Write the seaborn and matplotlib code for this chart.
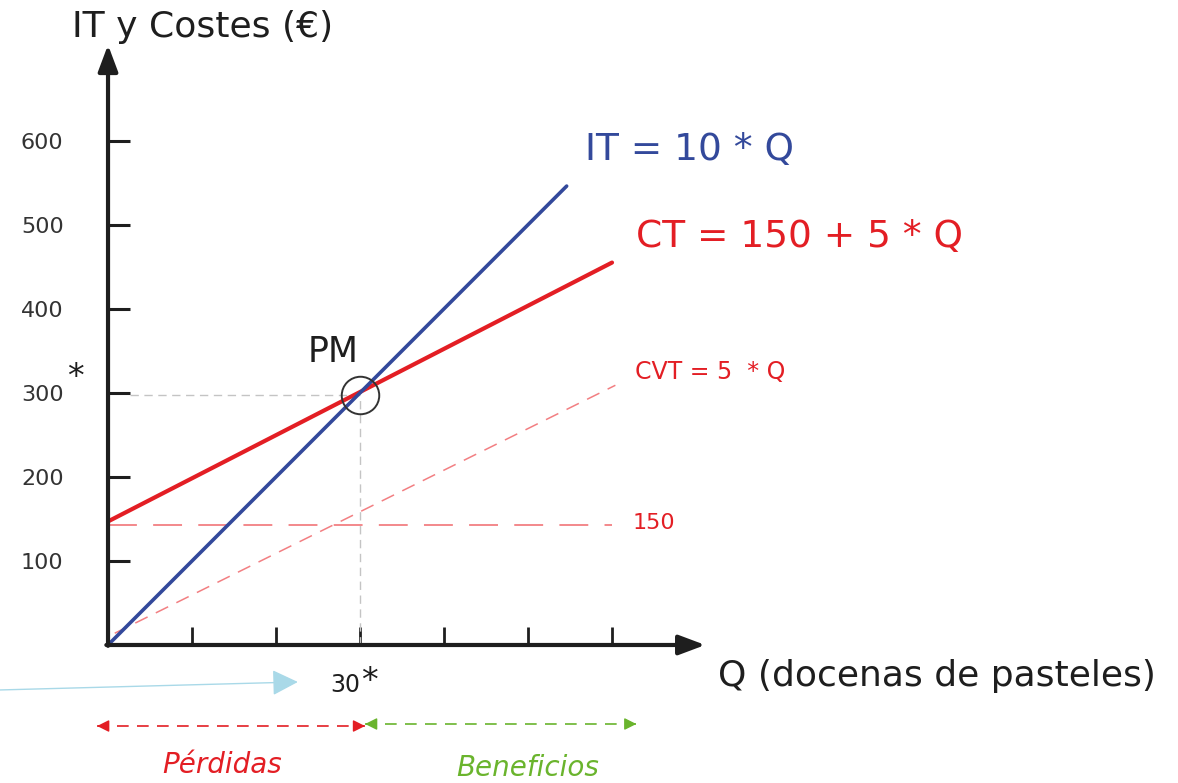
import pandas as pd
import matplotlib.pyplot as plt
import seaborn as sns

# Values
it_q = [0, 54.6]          # IT = 10 * Q
it_val = [0, 546]
ct_q = [0, 60]            # CT = 150 + 5 * Q
ct_val = [147, 455]
cvt_q = [0.8, 60.4]       # CVT = 5 * Q
cvt_val = [14, 309]
cf_q = [0, 60]            # fixed cost 150
cf_val = [143, 143]
pm_q = 30                 # break-even point
pm_val = 298
x_ticks = [10, 20, 30, 40, 50, 60]
y_ticks = [100, 200, 300, 400, 500, 600]
y_labels = ["100", "200", "300", "400", "500", "600"]

BLUE = "#33499b"
RED = "#e31e24"
LIGHT_RED = "#f27f82"
GREEN = "#6ab42d"
DARK = "#1e1e1e"

sns.set_style("white")
plt.rcParams["font.family"] = ["DejaVu Sans"]

fig = plt.figure(figsize=(11.78, 7.83), dpi=100)
ax = fig.add_axes([0, 0, 1, 1])
ax.set_xlim(-12.86, 127.38)
ax.set_ylim(-164.2, 767.4)

# axes through the origin
for side in ["top", "right"]:
    ax.spines[side].set_visible(False)
ax.spines["left"].set_position(("data", 0))
ax.spines["bottom"].set_position(("data", 0))
ax.spines["left"].set_visible(False)
ax.spines["bottom"].set_visible(False)
ax.annotate("", xy=(0, 714), xytext=(0, -1),
            arrowprops=dict(arrowstyle="-|>,head_length=0.8,head_width=0.3",
                            lw=3, color=DARK, mutation_scale=20,
                            shrinkA=0, shrinkB=0))
ax.annotate("", xy=(71.1, 0), xytext=(-0.2, 0),
            arrowprops=dict(arrowstyle="-|>,head_length=0.8,head_width=0.3",
                            lw=3, color=DARK, mutation_scale=20,
                            shrinkA=0, shrinkB=0))

ax.set_xticks(x_ticks)
ax.set_xticklabels([])
ax.set_yticks(y_ticks)
ax.set_yticklabels(y_labels)
ax.tick_params(axis="x", direction="in", length=13, width=2, color=DARK,
               bottom=True, labelbottom=False)
ax.tick_params(axis="y", direction="in", length=16, width=2.2, color=DARK,
               left=True, pad=32, labelsize=16, labelcolor="#333333")
ax.grid(False)

# guide lines to the break-even point
ax.plot([2.6, pm_q], [pm_val, pm_val], color="#c4c4c4", lw=1, ls=(0, (6, 4)))
ax.plot([pm_q, pm_q], [0, pm_val], color="#c4c4c4", lw=1, ls=(0, (6, 4)))

# cost and revenue lines
sns.lineplot(x=cf_q, y=cf_val, ax=ax, color=LIGHT_RED, lw=1.3,
             linestyle=(0, (16, 9)))
sns.lineplot(x=cvt_q, y=cvt_val, ax=ax, color=LIGHT_RED, lw=1.1,
             linestyle=(0, (9, 6)))
sns.lineplot(x=ct_q, y=ct_val, ax=ax, color=RED, lw=3)
sns.lineplot(x=it_q, y=it_val, ax=ax, color=BLUE, lw=2.6)

ax.plot([pm_q], [pm_val], marker="o", ms=27, mfc="none", mec="#333333", mew=1.4)

# labels
ax.text(11.2, 735, "IT y Costes (€)", fontsize=26, color=DARK,
        ha="center", va="center")
ax.text(72.6, -37, "Q (docenas de pasteles)", fontsize=26, color=DARK,
        ha="left", va="center")
ax.text(56.8, 589, "IT = 10 * Q", fontsize=27, color=BLUE, ha="left", va="center")
ax.text(62.9, 485, "CT = 150 + 5 * Q", fontsize=27, color=RED, ha="left", va="center")
ax.text(62.7, 325, "CVT = 5  * Q", fontsize=17, color=RED, ha="left", va="center")
ax.text(62.5, 145, "150", fontsize=16, color=RED, ha="left", va="center")
ax.text(23.8, 349, "PM", fontsize=25, color=DARK, ha="left", va="center")
ax.text(-3.9, 318, "*", fontsize=24, color=DARK, ha="center", va="center")
ax.text(26.4, -48, "30", fontsize=17, color=DARK, ha="left", va="center")
ax.text(31.1, -43, "*", fontsize=24, color=DARK, ha="center", va="center")

# blue pointer arrow on the left
ax.annotate("", xy=(22.6, -44), xytext=(-12.86, -53.5),
            arrowprops=dict(arrowstyle="-|>,head_length=0.8,head_width=0.4",
                            lw=1, color="#a9d9e8", mutation_scale=20,
                            shrinkA=0, shrinkB=0))

# losses / profits ranges
ax.plot([-1.3, 30.6], [-96.4, -96.4], color=RED, lw=1.2, ls=(0, (7, 5)))
ax.plot([30.6, 62.9], [-94, -94], color=GREEN, lw=1.2, ls=(0, (7, 5)))
for (x0, x1, y, c) in [(-0.3, -1.3, -96.4, RED), (29.6, 30.6, -96.4, RED),
                       (31.6, 30.6, -94, GREEN), (61.9, 62.9, -94, GREEN)]:
    ax.annotate("", xy=(x1, y), xytext=(x0, y),
                arrowprops=dict(arrowstyle="-|>,head_length=0.6,head_width=0.3",
                                lw=1, color=c, mutation_scale=12,
                                shrinkA=0, shrinkB=0))
ax.text(13.6, -143, "Pérdidas", fontsize=20, color=RED, style="italic",
        ha="center", va="center")
ax.text(50, -162.8, "Beneficios", fontsize=20, color=GREEN, style="italic",
        ha="center", va="bottom")

fig.savefig("out.png", dpi=100)
